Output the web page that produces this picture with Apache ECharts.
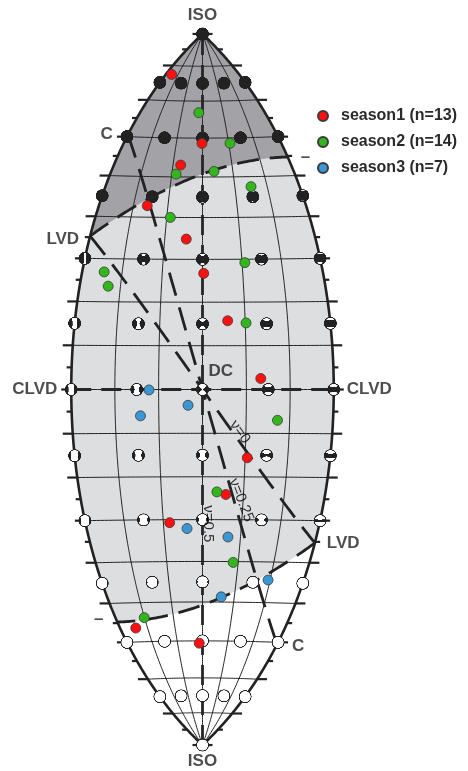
<!DOCTYPE html>
<html>
<head>
<meta charset="utf-8">
<script src="https://cdn.jsdelivr.net/npm/echarts@6/dist/echarts.min.js"></script>
<style>
  html, body { margin: 0; padding: 0; background: #ffffff; }
  #chart { width: 468px; height: 771px; }
</style>
</head>
<body>
<div id="chart"></div>
<script>
// Moment-tensor source types on the Tape & Tape lune (Hammer equal-area projection).
// Each event is [gamma (lune longitude, deg), delta (lune latitude, deg)].
const season1 = [
  [-25.3, 77.4], [-0.2, 58.6], [-7.4, 53.0], [-16.0, 42.8], [-4.3, 34.8],
  [0.3, 26.7], [5.9, 15.7], [13.3, 2.5], [10.5, -15.6], [5.7, -24.1],
  [-8.4, -30.7], [-24.3, -56.4], [-1.3, -60.6]
];
const season2 = [
  [-1.8, 66.8], [10.5, 58.6], [-8.6, 50.7], [3.8, 51.4], [15.0, 47.5],
  [-9.0, 40.0], [10.7, 29.2], [-24.5, 26.9], [-23.0, 23.6], [10.2, 15.2],
  [17.2, -7.0], [3.5, -23.5], [8.6, -40.2], [-20.1, -53.8]
];
const season3 = [
  [-12.2, -0.1], [-14.2, -6.0], [-3.3, -3.6], [-4.0, -32.1],
  [6.7, -34.1], [5.9, -48.7], [19.4, -44.4]
];
const seriesNames = ['season1 (n=13)', 'season2 (n=14)', 'season3 (n=7)'];
const seriesColors = ['#ff1010', '#33b51c', '#3a97d4'];

// Graticule and reference beachball grid (degrees)
const parallels = [-80, -70, -60, -50, -40, -30, -20, -10, 0, 10, 20, 30, 40, 50, 60, 70, 80];
const meridians = [-20, -10, 0, 10, 20];
const tickDeltas = [];
for (let d = -90; d <= 90; d += 5) tickDeltas.push(d);
const ballGammas = [-30, -15, 0, 15, 30];
const ballDeltas = [-75, -60, -45, -30, -15, 0, 15, 30, 45, 60, 75];

// ---- projection and source-type helpers ----
const D2R = Math.PI / 180;
function hammer(g, d) {
  const l = g * D2R, p = d * D2R;
  const k = Math.sqrt(1 + Math.cos(p) * Math.cos(l / 2));
  return [2 * Math.SQRT2 * Math.cos(p) * Math.sin(l / 2) / k, Math.SQRT2 * Math.sin(p) / k];
}
function lune2eig(g, d) {
  const gr = g * D2R, dr = d * D2R, s3 = Math.sqrt(3), s6 = Math.sqrt(6);
  const iso = [1 / s3, 1 / s3, 1 / s3];
  const dc = [1 / Math.SQRT2, 0, -1 / Math.SQRT2];
  const cl = [-1 / s6, 2 / s6, -1 / s6];
  return [0, 1, 2].map(i => Math.sin(dr) * iso[i] + Math.cos(dr) * (Math.cos(gr) * dc[i] + Math.sin(gr) * cl[i]));
}
function eig2lune(l) {
  const n = Math.hypot(l[0], l[1], l[2]);
  const d = 90 - Math.acos((l[0] + l[1] + l[2]) / (Math.sqrt(3) * n)) / D2R;
  const g = Math.atan2(-l[0] + 2 * l[1] - l[2], Math.sqrt(3) * (l[0] - l[2])) / D2R;
  return [g, d];
}
function meridianPts(g, d0, d1) {
  const pts = [], n = Math.max(4, Math.ceil(Math.abs(d1 - d0) * 2));
  for (let i = 0; i <= n; i++) pts.push(hammer(g, d0 + (d1 - d0) * i / n));
  return pts;
}
function parallelPts(d) {
  const pts = [];
  for (let g = -30; g <= 30; g += 1) pts.push(hammer(g, d));
  return pts;
}
function eigCurve(f, t0, t1) {
  const pts = [], n = 120;
  for (let i = 0; i <= n; i++) {
    const t = (t0 + (t1 - t0) * i / n) * D2R;
    const ld = eig2lune(f(t));
    pts.push(hammer(ld[0], ld[1]));
  }
  return pts;
}

// special curves
const lam3Zero = eigCurve(t => [Math.cos(t), Math.sin(t), 0], 0, 45);      // upper region boundary
const lam1Zero = eigCurve(t => [0, -Math.sin(t), -Math.cos(t)], 0, 45);    // lower region boundary
const nu0 = eigCurve(t => [Math.cos(t), 0, -Math.sin(t)], 0, 90);          // LVD - DC - LVD
const nu025 = eigCurve(t => [3 * Math.cos(t) - Math.sin(t), Math.cos(t) - Math.sin(t), Math.cos(t) - 3 * Math.sin(t)], 0, 90);

// ---- plotting frame: one data unit of the projection = S pixels ----
const W = 468, H = 771, CX = 202.5, CY = 389.5, S = 251.4;
const PX = 1 / S;

// regions
const lunePoly = meridianPts(-30, -90, 90).concat(meridianPts(30, 90, -90));
const upperPoly = meridianPts(-30, 35.264, 90).concat(meridianPts(30, 90, 54.736)).concat(lam3Zero.slice().reverse());
const lowerPoly = meridianPts(-30, -54.736, -90).concat(meridianPts(30, -90, -35.264)).concat(lam1Zero);

// graticule lines
const thinLines = parallels.map(parallelPts).concat(meridians.map(g => meridianPts(g, -90, 90)));
const outline = [meridianPts(-30, -90, 90), meridianPts(30, -90, 90)];
const ticks = [];
tickDeltas.forEach(d => {
  const len = (d % 10 === 0 ? 10 : 5) * PX;
  const a = hammer(-30, d), b = hammer(30, d);
  ticks.push([a, [a[0] - len, a[1]]]);
  ticks.push([b, [b[0] + len, b[1]]]);
});

// beachball glyphs (lower hemisphere): T axis east-west, B axis vertical, P axis north-south
function ballCanvas(g, d) {
  const lam = lune2eig(g, d);
  const N = 64, R = 30.5, c = N / 2;
  const cv = document.createElement('canvas');
  cv.width = N; cv.height = N;
  const ctx = cv.getContext('2d');
  const img = ctx.createImageData(N, N);
  for (let j = 0; j < N; j++) {
    for (let i = 0; i < N; i++) {
      const X = (i + 0.5 - c) / R, Y = (c - (j + 0.5)) / R;
      const r2 = X * X + Y * Y;
      if (r2 > 1) continue;
      const dz = 1 - r2;
      const st = Math.sqrt(Math.max(0, 1 - dz * dz));
      const r = Math.sqrt(r2) || 1;
      const dx = st * X / r, dy = st * Y / r;
      const v = lam[0] * dx * dx + lam[2] * dy * dy + lam[1] * dz * dz;
      const col = v > 1e-9 ? 34 : 255;
      const k = (j * N + i) * 4;
      img.data[k] = img.data[k + 1] = img.data[k + 2] = col;
      img.data[k + 3] = 255;
    }
  }
  ctx.putImageData(img, 0, 0);
  ctx.beginPath();
  ctx.arc(c, c, R - 2, 0, 2 * Math.PI);
  ctx.lineWidth = 4.5;
  ctx.strokeStyle = '#222';
  ctx.stroke();
  return cv;
}
const balls = [[0, 90], [0, -90]];
ballDeltas.forEach(d => ballGammas.forEach(g => balls.push([g, d])));
const ballImages = balls.map(b => ballCanvas(b[0], b[1]));

// ---- series builders ----
function pathSeries(name, paths, style, z) {
  return {
    type: 'custom', name: name, z: z, silent: true,
    data: paths.map(p => p[0]),
    renderItem: function (params, api) {
      const pts = paths[params.dataIndex].map(p => api.coord(p));
      if (style.fill) {
        return { type: 'polygon', shape: { points: pts }, style: { fill: style.fill, stroke: 'none' } };
      }
      return {
        type: 'polyline', shape: { points: pts },
        style: { stroke: style.stroke, lineWidth: style.width, lineDash: style.dash || null, fill: 'none', lineCap: 'butt', lineJoin: 'round' }
      };
    }
  };
}

const FONT = '"Liberation Sans", Arial, Helvetica, sans-serif';
function lbl(g, d, text, pos, dist, extra) {
  return {
    value: hammer(g, d),
    label: Object.assign({ show: true, formatter: text, position: pos, distance: dist }, extra || {})
  };
}
const nuStyle = { fontWeight: 'normal', fontSize: 15, color: '#000' };
const labelData = [
  lbl(0, 90, 'ISO', 'top', 10),
  lbl(0, -90, 'ISO', 'bottom', 8),
  lbl(-30, 0, 'CLVD', 'left', 14),
  lbl(30, 0, 'CLVD', 'right', 13),
  lbl(0, 0, 'DC', 'right', 6, { offset: [0, -18] }),
  lbl(-30, 60.5, 'C', 'left', 15),
  lbl(30, -60.5, 'C', 'right', 15, { offset: [0, 2] }),
  lbl(-30, 35.264, 'LVD', 'left', 11, { offset: [0, 3] }),
  lbl(30, -35.264, 'LVD', 'right', 12),
  lbl(30, 54.736, '–', 'right', 13),
  lbl(-30, -54.736, '–', 'left', 14, { offset: [0, -3] }),
  lbl(8.6, -9.7, 'ν=0', 'inside', 0, Object.assign({ rotate: -54 }, nuStyle)),
  lbl(9.5, -25.4, 'ν=0.25', 'inside', 0, Object.assign({ rotate: -69 }, nuStyle)),
  lbl(1.4, -31.0, 'ν=0.5', 'inside', 0, Object.assign({ rotate: -90 }, nuStyle))
];

const seasons = [season1, season2, season3];
const scatterSeries = seasons.map((pts, i) => ({
  type: 'scatter', name: seriesNames[i], z: 8,
  data: pts.map(p => hammer(p[0], p[1])),
  symbol: 'circle', symbolSize: 10,
  itemStyle: { color: seriesColors[i], borderColor: '#3a3a3a', borderWidth: 0.8, opacity: 1 }
}));

const option = {
  animation: false,
  backgroundColor: '#ffffff',
  grid: { left: 0, right: 0, top: 0, bottom: 0 },
  xAxis: { type: 'value', min: -CX / S, max: (W - CX) / S, show: false },
  yAxis: { type: 'value', min: -(H - CY) / S, max: CY / S, show: false },
  legend: {
    data: seriesNames, orient: 'vertical', left: 317, top: 107,
    itemWidth: 26, itemHeight: 10, itemGap: 8, padding: 0,
    icon: 'circle', selectedMode: false,
    textStyle: { fontFamily: FONT, fontWeight: 'bold', fontSize: 16, color: '#2a2a2a', lineHeight: 18 }
  },
  series: [
    pathSeries('lune', [lunePoly], { fill: '#dcdee0' }, 1),
    pathSeries('upper', [upperPoly], { fill: '#a3a2a7' }, 1),
    pathSeries('lower', [lowerPoly], { fill: '#ffffff' }, 1),
    pathSeries('graticule', thinLines, { stroke: '#222', width: 1 }, 2),
    pathSeries('axes', [meridianPts(0, -90, 90), parallelPts(0)], { stroke: '#262626', width: 2.8, dash: [20, 10] }, 3),
    pathSeries('outline', outline, { stroke: '#222', width: 2.6 }, 3),
    pathSeries('ticks', ticks, { stroke: '#222', width: 2.2 }, 3),
    pathSeries('boundaries', [lam3Zero, lam1Zero], { stroke: '#222', width: 2.8, dash: [22, 11] }, 4),
    pathSeries('poisson', [nu0, nu025], { stroke: '#222', width: 2.8, dash: [24, 12] }, 4),
    {
      type: 'custom', name: 'beachballs', z: 5, silent: true,
      data: balls.map(b => hammer(b[0], b[1])),
      renderItem: function (params, api) {
        const p = api.coord([api.value(0), api.value(1)]);
        const s = 13.4;
        return { type: 'image', style: { image: ballImages[params.dataIndex], x: p[0] - s / 2, y: p[1] - s / 2, width: s, height: s } };
      }
    }
  ].concat(scatterSeries).concat([
    {
      type: 'scatter', name: 'labels', z: 9, silent: true,
      symbolSize: 0, data: labelData,
      label: { fontFamily: FONT, fontWeight: 'bold', fontSize: 17, color: '#222' }
    }
  ])
};

const chart = echarts.init(document.getElementById('chart'));
chart.setOption(option);
</script>
</body>
</html>
